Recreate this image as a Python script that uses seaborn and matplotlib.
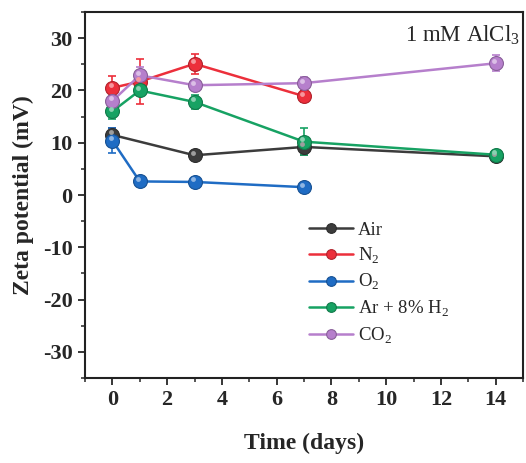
import numpy as np
import pandas as pd
import matplotlib
matplotlib.use("Agg")
import matplotlib.pyplot as plt
import matplotlib.colors as mcolors
import seaborn as sns

# Zeta potential vs. time for different gas atmospheres (1 mM AlCl3)
series_names = ["Air", "N$_2$", "O$_2$", "Ar + 8% H$_2$", "CO$_2$"]
colors = ["#3c3c3c", "#ec2f3b", "#1f6cc4", "#17a263", "#b67fcc"]

air_days = [0, 3, 7, 14]
air_zeta = [11.5, 7.6, 9.2, 7.4]
air_err = [1.4, 0.5, 1.6, 0.6]

n2_days = [0, 1, 3, 7]
n2_zeta = [20.5, 21.7, 25.1, 18.9]
n2_err = [2.3, 4.3, 1.9, 1.2]

o2_days = [0, 1, 3, 7]
o2_zeta = [10.4, 2.6, 2.5, 1.5]
o2_err = [2.4, 0.4, 0.4, 0.4]

ar_days = [0, 1, 3, 7, 14]
ar_zeta = [16.0, 20.0, 17.8, 10.2, 7.7]
ar_err = [1.5, 0.8, 1.4, 2.6, 0.6]

co2_days = [0, 1, 3, 7, 14]
co2_zeta = [18.0, 22.9, 21.0, 21.4, 25.2]
co2_err = [1.0, 1.5, 0.8, 1.1, 1.5]

x_ticks = [0, 2, 4, 6, 8, 10, 12, 14]
y_ticks = [-30, -20, -10, 0, 10, 20, 30]

all_days = [air_days, n2_days, o2_days, ar_days, co2_days]
all_zeta = [air_zeta, n2_zeta, o2_zeta, ar_zeta, co2_zeta]
all_err = [air_err, n2_err, o2_err, ar_err, co2_err]

frames = []
for name, d, z, e in zip(series_names, all_days, all_zeta, all_err):
    frames.append(pd.DataFrame({"day": d, "zeta": z, "err": e, "gas": name}))
df = pd.concat(frames, ignore_index=True)

sns.set_theme(style="ticks")
plt.rcParams["font.family"] = ["Liberation Serif", "DejaVu Serif"]
plt.rcParams["mathtext.fontset"] = "custom"
plt.rcParams["mathtext.rm"] = "Liberation Serif"
plt.rcParams["mathtext.bf"] = "Liberation Serif:bold"
plt.rcParams["axes.unicode_minus"] = False

fig = plt.figure(figsize=(5.26, 4.63), dpi=100)
ax = fig.add_axes([0.1616, 0.1836, 0.833, 0.7904])

palette = dict(zip(series_names, colors))


def darker(c, f=0.75):
    r = np.array(mcolors.to_rgb(c))
    return tuple(r * f)


def lighter(c, f=0.5):
    r = np.array(mcolors.to_rgb(c))
    return tuple(r + (1 - r) * f)


for name in series_names:
    sub = df[df["gas"] == name]
    ax.errorbar(sub["day"], sub["zeta"], yerr=sub["err"], fmt="none",
                ecolor=palette[name], elinewidth=1.2, capsize=3, capthick=1.2,
                zorder=2)

sns.lineplot(data=df, x="day", y="zeta", hue="gas", hue_order=series_names,
             palette=palette, marker="o", markersize=10, linewidth=1.8,
             ax=ax, zorder=3, sort=True, errorbar=None)

for line in ax.get_lines():
    c = line.get_color()
    if line.get_marker() == "o":
        line.set_markeredgecolor(darker(c))
        line.set_markeredgewidth(0.8)

# small highlight on each marker for a shaded ball look
for name in series_names:
    sub = df[df["gas"] == name]
    ax.plot(sub["day"] - 0.06, sub["zeta"] + 0.5, linestyle="none", marker="o",
            markersize=3.5, color=lighter(palette[name], 0.5),
            markeredgewidth=0, zorder=4)

ax.set_xlim(-1, 15)
ax.set_ylim(-35, 35)
ax.set_xticks(x_ticks)
ax.set_yticks(y_ticks)
ax.set_xticks(np.arange(-1, 15.5, 1), minor=True)
ax.set_yticks(np.arange(-35, 35.5, 5), minor=True)
ax.tick_params(axis="both", which="major", direction="out", length=5, width=1.3,
               labelsize=16, top=False, right=False, pad=4)
ax.tick_params(axis="both", which="minor", direction="out", length=3, width=1.1,
               top=False, right=False)
for lab in ax.get_xticklabels() + ax.get_yticklabels():
    lab.set_fontweight("bold")
for sp in ax.spines.values():
    sp.set_linewidth(1.5)
    sp.set_color("#222222")

ax.set_xlabel("Time (days)", fontsize=17, fontweight="bold", labelpad=16)
ax.set_ylabel("Zeta potential (mV)", fontsize=17, fontweight="bold", labelpad=6)

ax.text(0.993, 0.97, "1 mM AlCl$_3$", transform=ax.transAxes, ha="right",
        va="top", fontsize=16.5)

handles, labels = ax.get_legend_handles_labels()
leg = ax.legend(handles[:5], labels[:5], loc="upper left",
                bbox_to_anchor=(0.495, 0.448), borderaxespad=0, frameon=False,
                fontsize=13.5, handlelength=2.3, labelspacing=0.35,
                handletextpad=0.3)
for h in leg.legend_handles:
    h.set_markersize(7)
    h.set_markeredgecolor(darker(h.get_color()))

fig.savefig("out.png", dpi=100)
